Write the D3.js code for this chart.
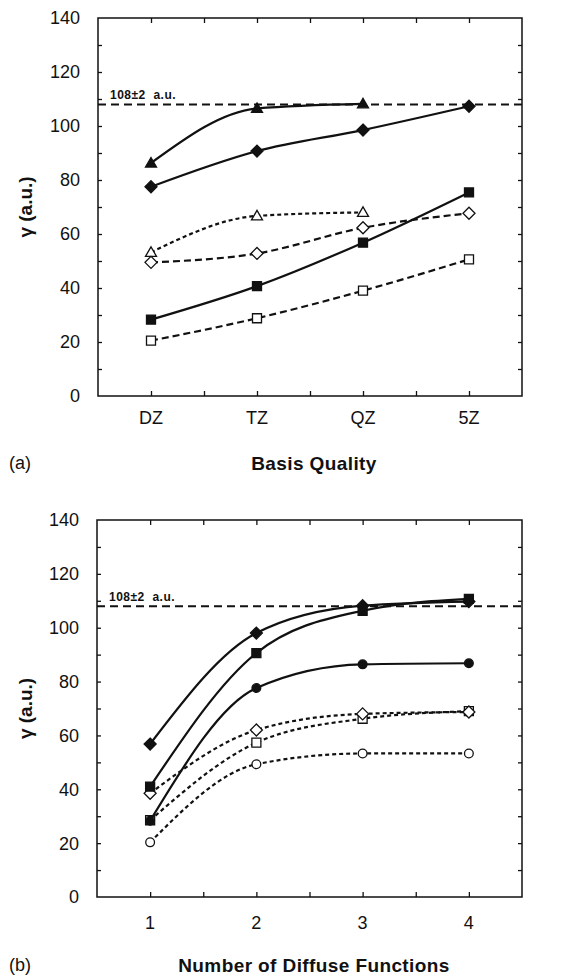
<!DOCTYPE html>
<html>
<head>
<meta charset="utf-8"/>
<title>Hyperpolarizability convergence</title>
<script src="https://cdn.jsdelivr.net/npm/d3@7"></script>
<style>
 body { margin: 0; background: #fff; }
 text { font-family: "Liberation Sans", Arial, Helvetica, sans-serif; fill: #111; }
</style>
</head>
<body>
<div id="chart"></div>
<script>
var basisLabels = ['DZ', 'TZ', 'QZ', '5Z'];
var diffuseLabels = ['1', '2', '3', '4'];
var yTicks = [0, 20, 40, 60, 80, 100, 120, 140];
var refValue = 108;
var refLabel = '108\u00b12  a.u.';

// panel (a): gamma vs basis quality
var aFilledTriangle = [86.3, 106.5, 108.2];
var aFilledDiamond = [77.5, 90.7, 98.5, 107.3];
var aOpenTriangle = [53.2, 66.7, 68];
var aOpenDiamond = [49.5, 52.8, 62.3, 67.7];
var aFilledSquare = [28.3, 40.7, 56.8, 75.4];
var aOpenSquare = [20.5, 28.8, 39, 50.6];

// panel (b): gamma vs number of diffuse functions
var bFilledDiamond = [56.8, 98, 108.2, 109.7];
var bFilledSquare = [41, 90.6, 106.3, 110.7];
var bFilledCircle = [28.3, 77.6, 86.4, 86.8];
var bOpenDiamond = [38.5, 62, 68, 68.7];
var bOpenSquare = [28.5, 57.3, 66.2, 69];
var bOpenCircle = [20.3, 49.3, 53.3, 53.3];

var W = 570, H = 976;
var svg = d3.select('#chart').append('svg').attr('width', W).attr('height', H);

// marker path centred on 0,0
function markerPath(shape) {
    if (shape == 'diamond') return 'M0,-6L6,0L0,6L-6,0Z';
    if (shape == 'square') return 'M-4.5,-4.5H4.5V4.5H-4.5Z';
    if (shape == 'triangle') return 'M0,-5.5L5.5,4L-5.5,4Z';
    return d3.symbol(d3.symbolCircle, 60)();
}

function drawPanel(p) {
    var g = svg.append('g');
    var x = d3.scaleLinear().domain([0.5, 4.5]).range([p.left, p.right]);
    var y = d3.scaleLinear().domain([0, 140]).range([p.bottom, p.top]);

    // frame
    g.append('rect')
        .attr('x', p.left).attr('y', p.top)
        .attr('width', p.right - p.left).attr('height', p.bottom - p.top)
        .attr('fill', 'none').attr('stroke', '#111').attr('stroke-width', 1.5);

    // inward ticks on all four sides
    var xt = d3.range(1, 4.01, 0.5);
    var yt = d3.range(10, 140, 10);
    g.append('g').attr('transform', 'translate(0,' + p.bottom + ')')
        .call(d3.axisTop(x).tickValues(xt).tickSize(5).tickFormat(''))
        .call(function(s) { s.select('.domain').remove(); });
    g.append('g').attr('transform', 'translate(0,' + p.top + ')')
        .call(d3.axisBottom(x).tickValues(xt).tickSize(5).tickFormat(''))
        .call(function(s) { s.select('.domain').remove(); });
    g.append('g').attr('transform', 'translate(' + p.left + ',0)')
        .call(d3.axisRight(y).tickValues(yt).tickSize(4).tickFormat(''))
        .call(function(s) { s.select('.domain').remove(); });
    g.append('g').attr('transform', 'translate(' + p.right + ',0)')
        .call(d3.axisLeft(y).tickValues(yt).tickSize(4).tickFormat(''))
        .call(function(s) { s.select('.domain').remove(); });
    g.selectAll('.tick line').attr('stroke', '#111').attr('stroke-width', 1.3);

    // tick labels
    g.selectAll('.ylab').data(yTicks).enter().append('text')
        .attr('x', p.left - 18).attr('y', function(d) { return y(d); })
        .attr('dy', '0.36em').attr('text-anchor', 'end')
        .style('font-size', '18px').text(function(d) { return d; });
    g.selectAll('.xlab').data(p.labels).enter().append('text')
        .attr('x', function(d, i) { return x(i + 1); }).attr('y', p.labelY)
        .attr('dy', '0.36em').attr('text-anchor', 'middle')
        .style('font-size', '18px').text(function(d) { return d; });

    // titles
    g.append('text')
        .attr('transform', 'translate(' + 25 + ',' + (p.top + p.bottom) / 2 + ') rotate(-90)')
        .attr('text-anchor', 'middle').attr('dy', '0.36em')
        .style('font-size', '19px').style('font-weight', 'bold').text('\u03b3 (a.u.)');
    g.append('text')
        .attr('x', 314).attr('y', p.titleY).attr('dy', '0.36em')
        .attr('text-anchor', 'middle').style('letter-spacing', '0.4px')
        .style('font-size', '19px').style('font-weight', 'bold').text(p.title);
    g.append('text')
        .attr('x', 9).attr('y', p.titleY).attr('dy', '0.36em')
        .style('font-size', '18px').text(p.letter);

    // reference value
    g.append('line')
        .attr('x1', p.left).attr('x2', p.right)
        .attr('y1', y(refValue)).attr('y2', y(refValue))
        .attr('stroke', '#111').attr('stroke-width', 2).attr('stroke-dasharray', '8,5');
    g.append('text')
        .attr('x', p.left + 12).attr('y', y(refValue) - 5)
        .style('font-size', '12px').style('font-weight', 'bold')
        .style('letter-spacing', '0.5px')
        .style('white-space', 'pre').text(refLabel);

    var line = d3.line()
        .x(function(d, i) { return x(i + 1); })
        .y(function(d) { return y(d); })
        .curve(d3.curveMonotoneX);

    p.series.forEach(function(s) {
        g.append('path').attr('d', line(s.values))
            .attr('fill', 'none').attr('stroke', '#111').attr('stroke-width', 2.2)
            .attr('stroke-dasharray', s.dash);
        g.selectAll(null).data(s.values).enter().append('path')
            .attr('d', markerPath(s.shape))
            .attr('transform', function(d, i) { return 'translate(' + x(i + 1) + ',' + y(d) + ')'; })
            .attr('fill', s.filled ? '#111' : '#fff')
            .attr('stroke', '#111').attr('stroke-width', 1.3);
    });
}

var dotted = '4,3', dashed = '7,4', solid = null;

drawPanel({
    left: 98, right: 522, top: 18, bottom: 396, labelY: 418, titleY: 463,
    labels: basisLabels, title: 'Basis Quality', letter: '(a)',
    series: [
        { values: aOpenTriangle, shape: 'triangle', filled: false, dash: dotted },
        { values: aOpenDiamond, shape: 'diamond', filled: false, dash: dashed },
        { values: aOpenSquare, shape: 'square', filled: false, dash: dashed },
        { values: aFilledTriangle, shape: 'triangle', filled: true, dash: solid },
        { values: aFilledDiamond, shape: 'diamond', filled: true, dash: solid },
        { values: aFilledSquare, shape: 'square', filled: true, dash: solid }
    ]
});

drawPanel({
    left: 97, right: 522, top: 520, bottom: 897, labelY: 923, titleY: 965,
    labels: diffuseLabels, title: 'Number of Diffuse Functions', letter: '(b)',
    series: [
        { values: bOpenCircle, shape: 'circle', filled: false, dash: dotted },
        { values: bOpenSquare, shape: 'square', filled: false, dash: dotted },
        { values: bOpenDiamond, shape: 'diamond', filled: false, dash: dotted },
        { values: bFilledCircle, shape: 'circle', filled: true, dash: solid },
        { values: bFilledSquare, shape: 'square', filled: true, dash: solid },
        { values: bFilledDiamond, shape: 'diamond', filled: true, dash: solid }
    ]
});
</script>
</body>
</html>
